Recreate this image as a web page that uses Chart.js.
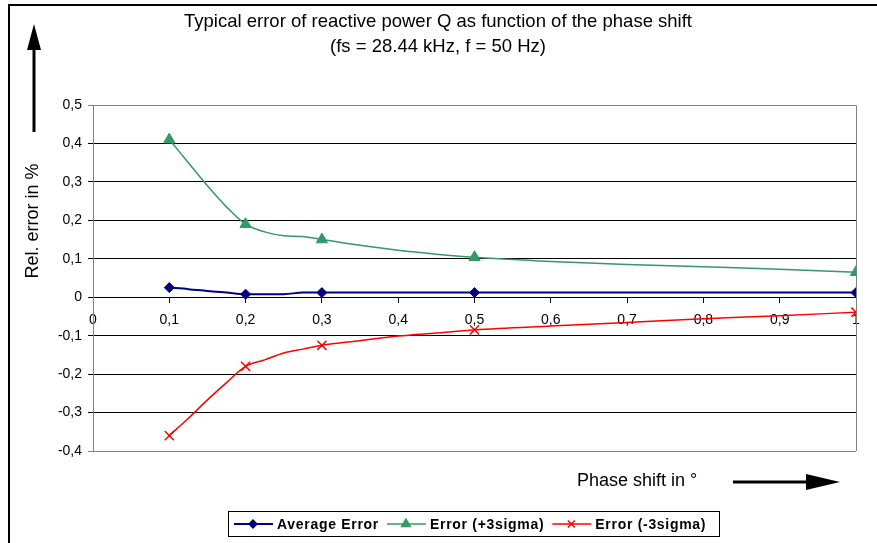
<!DOCTYPE html>
<html>
<head>
<meta charset="utf-8">
<title>Typical error of reactive power Q</title>
<script src="https://cdn.jsdelivr.net/npm/chart.js@4.4.1/dist/chart.umd.min.js"></script>
<style>
    html, body { margin: 0; padding: 0; background: #fff; }
    #wrap { width: 877px; height: 543px; }
</style>
</head>
<body>
<div id="wrap"><canvas id="chart" width="877" height="543"></canvas></div>
<script>
// phase shift in degrees
const phaseShift = [0.1, 0.125, 0.15, 0.175, 0.2, 0.225, 0.25, 0.275, 0.3, 0.35, 0.4, 0.45, 0.5, 0.6, 0.7, 0.8, 0.9, 1.0];
// relative error in %
const averageError = [0.025, 0.021, 0.016, 0.012, 0.008, 0.008, 0.008, 0.012, 0.012, 0.012, 0.012, 0.012, 0.012, 0.012, 0.012, 0.012, 0.012, 0.012];
const errorPlus3s = [0.41, 0.35, 0.29, 0.235, 0.19, 0.17, 0.16, 0.158, 0.15, 0.135, 0.122, 0.112, 0.104, 0.093, 0.085, 0.079, 0.073, 0.065];
const errorMinus3s = [-0.36, -0.315, -0.267, -0.222, -0.18, -0.163, -0.145, -0.135, -0.125, -0.113, -0.101, -0.093, -0.085, -0.075, -0.066, -0.056, -0.048, -0.039];
// only these phase shifts get a marker
const markedShifts = [0.1, 0.2, 0.3, 0.5, 1.0];

const titleLines = ['Typical error of reactive power Q as function of the phase shift', '(fs = 28.44 kHz, f = 50 Hz)'];
const yAxisLabel = 'Rel. error in %';
const xAxisLabel = 'Phase shift in °';

const FONT = 'Arial, "Liberation Sans", sans-serif';
const BLUE = '#000080';
const GREEN = '#339966';
const RED = '#ff0000';

const toPoints = (ys) => phaseShift.map((x, i) => ({ x: x, y: ys[i] }));
const markerRadius = (r) => phaseShift.map(x => markedShifts.includes(x) ? r : 0);
const commaNum = (v) => {
    const r = Math.round(v * 10) / 10;
    if (r === 0) return '0';
    if (Number.isInteger(r)) return String(r);
    return r.toFixed(1).replace('.', ',');
};

const series = [
    { label: 'Average Error', data: averageError, color: BLUE, style: 'rectRot', radius: 5, width: 2 },
    { label: 'Error (+3sigma)', data: errorPlus3s, color: GREEN, style: 'triangle', radius: 6.5, width: 1.5 },
    { label: 'Error (-3sigma)', data: errorMinus3s, color: RED, style: 'crossRot', radius: 6.5, width: 1.5 }
];

// arrow helper for the axis hints
const drawArrow = (ctx, x1, y1, x2, y2, headLen, headHalf) => {
    const ang = Math.atan2(y2 - y1, x2 - x1);
    const bx = x2 - headLen * Math.cos(ang);
    const by = y2 - headLen * Math.sin(ang);
    ctx.beginPath();
    ctx.moveTo(x1, y1);
    ctx.lineTo(bx, by);
    ctx.lineWidth = 3;
    ctx.strokeStyle = '#000';
    ctx.stroke();
    ctx.beginPath();
    ctx.moveTo(x2, y2);
    ctx.lineTo(bx + headHalf * Math.sin(ang), by - headHalf * Math.cos(ang));
    ctx.lineTo(bx - headHalf * Math.sin(ang), by + headHalf * Math.cos(ang));
    ctx.closePath();
    ctx.fillStyle = '#000';
    ctx.fill();
};

const decorations = {
    id: 'decorations',
    beforeDatasetsDraw(chart) {
        const { ctx, chartArea: a } = chart;
        ctx.save();
        ctx.strokeStyle = '#808080';
        ctx.lineWidth = 1;
        ctx.beginPath();
        ctx.moveTo(a.left, a.top + 0.5);
        ctx.lineTo(a.right + 0.5, a.top + 0.5);
        ctx.lineTo(a.right + 0.5, a.bottom);
        ctx.stroke();
        ctx.restore();
    },
    afterDraw(chart) {
        const ctx = chart.ctx;
        ctx.save();

        // outer frame (top and left edges)
        ctx.strokeStyle = '#000';
        ctx.lineWidth = 2;
        ctx.beginPath();
        ctx.moveTo(9, 545);
        ctx.lineTo(9, 5);
        ctx.lineTo(880, 5);
        ctx.stroke();

        // title
        ctx.fillStyle = '#000';
        ctx.textAlign = 'center';
        ctx.textBaseline = 'middle';
        ctx.font = '18.5px ' + FONT;
        ctx.fillText(titleLines[0], 438, 22);
        ctx.fillText(titleLines[1], 438, 47);

        // y axis hint
        ctx.font = '18px ' + FONT;
        drawArrow(ctx, 34, 132, 34, 24, 26, 7);
        ctx.save();
        ctx.translate(33, 221);
        ctx.rotate(-Math.PI / 2);
        ctx.fillText(yAxisLabel, 0, 0);
        ctx.restore();

        // x axis hint
        ctx.textAlign = 'left';
        ctx.fillText(xAxisLabel, 577, 481);
        drawArrow(ctx, 733, 482, 840, 482, 34, 8);

        // legend
        const lx = 228, ly = 511, lw = 491, lh = 25;
        ctx.fillStyle = '#fff';
        ctx.fillRect(lx, ly, lw, lh);
        ctx.strokeStyle = '#000';
        ctx.lineWidth = 1;
        ctx.strokeRect(lx + 0.5, ly + 0.5, lw, lh);
        ctx.font = 'bold 14px ' + FONT;
        ctx.letterSpacing = '0.7px';
        ctx.textBaseline = 'middle';
        const cy = ly + lh / 2 + 0.5;
        let x = lx + 6;
        chart.data.datasets.forEach((ds) => {
            ctx.strokeStyle = ds.borderColor;
            ctx.fillStyle = ds.borderColor;
            ctx.lineWidth = ds.borderWidth;
            ctx.beginPath();
            ctx.moveTo(x, cy);
            ctx.lineTo(x + 39, cy);
            ctx.stroke();
            Chart.helpers.drawPoint(ctx, {
                pointStyle: ds.pointStyle,
                radius: ds.legendRadius,
                borderWidth: ds.borderWidth
            }, x + 19, cy);
            ctx.fillStyle = '#000';
            ctx.fillText(ds.label, x + 43, cy + 1);
            x += 43 + ctx.measureText(ds.label).width + 8;
        });
        ctx.restore();
    }
};

const ctx = document.getElementById('chart').getContext('2d');
new Chart(ctx, {
    type: 'line',
    data: {
        datasets: series.map(s => ({
            label: s.label,
            data: toPoints(s.data),
            borderColor: s.color,
            backgroundColor: s.color,
            borderWidth: s.width,
            pointStyle: s.style,
            pointRadius: markerRadius(s.radius),
            pointBorderColor: s.color,
            pointBackgroundColor: s.color,
            pointBorderWidth: s.style === 'crossRot' ? 1.5 : 1,
            legendRadius: s.radius - 1.5,
            cubicInterpolationMode: 'monotone',
            fill: false
        }))
    },
    options: {
        responsive: false,
        animation: false,
        layout: { padding: { left: 0, right: 21, top: 105, bottom: 92 } },
        plugins: {
            legend: { display: false },
            title: { display: false },
            tooltip: { enabled: false }
        },
        scales: {
            x: {
                type: 'linear',
                position: { y: 0 },
                min: 0,
                max: 1,
                ticks: {
                    stepSize: 0.1,
                    padding: 10,
                    color: '#000',
                    font: { family: FONT, size: 14 },
                    callback: (v) => commaNum(v)
                },
                grid: { drawOnChartArea: false, drawTicks: true, tickLength: 5, color: '#000' },
                border: { color: '#000', width: 1 }
            },
            y: {
                min: -0.4,
                max: 0.5,
                afterFit: (scale) => { scale.width = 93; },
                ticks: {
                    stepSize: 0.1,
                    padding: 6,
                    color: '#000',
                    font: { family: FONT, size: 14 },
                    callback: (v) => commaNum(v)
                },
                grid: {
                    tickLength: 5,
                    color: (c) => (c.index === 0 || c.index === 9) ? '#808080' : '#000'
                },
                border: { color: '#808080', width: 1 }
            }
        }
    },
    plugins: [decorations]
});
</script>
</body>
</html>
